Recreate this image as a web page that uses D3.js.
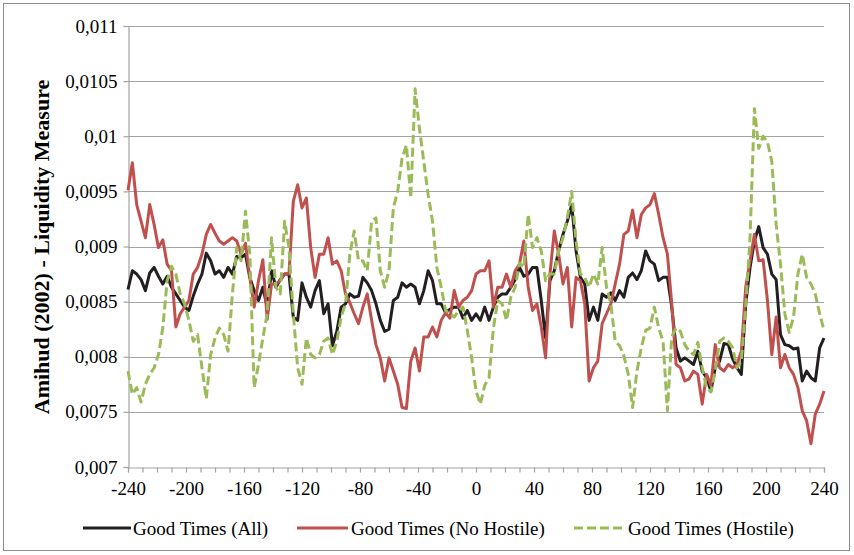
<!DOCTYPE html>
<html>
<head>
<meta charset="utf-8">
<script src="https://cdn.jsdelivr.net/npm/d3@7"></script>
<style>
  body { margin: 0; background: #fff; }
  text { font-family: "Liberation Serif", "Times New Roman", serif; fill: #000; }
</style>
</head>
<body>
<svg id="chart" width="854" height="555"></svg>
<script>
// Event-time window in days, one observation every three days
const days = d3.range(-240, 241, 3);

// Amihud (2002) illiquidity, Good Times (All)
const goodTimesAll = [
  0.00861,0.00878,0.00875,0.00870,0.00860,0.00876,0.00881,0.00873,0.00866,0.00873,
  0.00863,0.00857,0.00851,0.00845,0.00842,0.00855,0.00866,0.00875,0.00894,0.00887,
  0.00875,0.00878,0.00872,0.00881,0.00875,0.00891,0.00890,0.00893,0.00872,0.00860,
  0.00851,0.00863,0.00845,0.00878,0.00863,0.00870,0.00875,0.00875,0.00836,0.00833,
  0.00867,0.00854,0.00845,0.00860,0.00869,0.00839,0.00848,0.00810,0.00823,0.00845,
  0.00848,0.00857,0.00854,0.00855,0.00872,0.00867,0.00860,0.00848,0.00833,0.00823,
  0.00825,0.00851,0.00854,0.00867,0.00863,0.00866,0.00863,0.00848,0.00860,0.00878,
  0.00869,0.00848,0.00848,0.00840,0.00843,0.00845,0.00845,0.00835,0.00842,0.00833,
  0.00839,0.00833,0.00845,0.00833,0.00845,0.00854,0.00857,0.00857,0.00863,0.00870,
  0.00881,0.00873,0.00875,0.00881,0.00881,0.00851,0.00817,0.00869,0.00878,0.00896,
  0.00911,0.00923,0.00938,0.00896,0.00872,0.00866,0.00833,0.00845,0.00833,0.00857,
  0.00854,0.00858,0.00851,0.00860,0.00854,0.00872,0.00876,0.00870,0.00878,0.00896,
  0.00887,0.00884,0.00869,0.00872,0.00872,0.00845,0.00808,0.00796,0.00799,0.00796,
  0.00793,0.00805,0.00787,0.00781,0.00769,0.00790,0.00796,0.00812,0.00811,0.00798,
  0.00790,0.00784,0.00848,0.00881,0.00905,0.00918,0.00899,0.00893,0.00875,0.00870,
  0.00820,0.00811,0.00810,0.00807,0.00808,0.00778,0.00787,0.00781,0.00778,0.00808,
  0.00817
];

// Good Times (No Hostile)
const goodTimesNoHostile = [
  0.00951,0.00976,0.00938,0.00923,0.00908,0.00938,0.00920,0.00899,0.00906,0.00884,
  0.00878,0.00827,0.00839,0.00845,0.00851,0.00875,0.00881,0.00893,0.00911,0.00920,
  0.00912,0.00905,0.00902,0.00905,0.00908,0.00905,0.00893,0.00903,0.00872,0.00845,
  0.00869,0.00888,0.00834,0.00866,0.00866,0.00869,0.00875,0.00875,0.00941,0.00956,
  0.00935,0.00944,0.00899,0.00872,0.00893,0.00893,0.00908,0.00884,0.00887,0.00878,
  0.00857,0.00849,0.00839,0.00830,0.00845,0.00857,0.00833,0.00811,0.00799,0.00778,
  0.00799,0.00787,0.00775,0.00754,0.00753,0.00796,0.00808,0.00787,0.00818,0.00818,
  0.00827,0.00818,0.00833,0.00840,0.00835,0.00860,0.00845,0.00851,0.00854,0.00860,
  0.00875,0.00878,0.00878,0.00887,0.00845,0.00863,0.00863,0.00875,0.00863,0.00878,
  0.00884,0.00905,0.00863,0.00842,0.00848,0.00827,0.00799,0.00875,0.00914,0.00893,
  0.00866,0.00881,0.00827,0.00872,0.00869,0.00848,0.00778,0.00790,0.00796,0.00830,
  0.00839,0.00848,0.00866,0.00884,0.00911,0.00914,0.00933,0.00908,0.00929,0.00935,
  0.00938,0.00948,0.00929,0.00908,0.00893,0.00848,0.00793,0.00790,0.00778,0.00780,
  0.00787,0.00784,0.00757,0.00784,0.00774,0.00811,0.00790,0.00787,0.00793,0.00790,
  0.00793,0.00805,0.00863,0.00887,0.00911,0.00887,0.00888,0.00851,0.00802,0.00836,
  0.00790,0.00802,0.00790,0.00784,0.00772,0.00751,0.00742,0.00721,0.00748,0.00757,
  0.00769
];

// Good Times (Hostile)
const goodTimesHostile = [
  0.00787,0.00766,0.00772,0.00759,0.00775,0.00784,0.00790,0.00802,0.00826,0.00869,
  0.00882,0.00875,0.00857,0.00848,0.00833,0.00814,0.00820,0.00790,0.00762,0.00802,
  0.00817,0.00826,0.00820,0.00805,0.00857,0.00899,0.00887,0.00932,0.00893,0.00772,
  0.00793,0.00817,0.00839,0.00908,0.00863,0.00857,0.00923,0.00899,0.00839,0.00790,
  0.00775,0.00817,0.00802,0.00799,0.00802,0.00814,0.00817,0.00802,0.00814,0.00836,
  0.00848,0.00893,0.00914,0.00887,0.00887,0.00878,0.00923,0.00926,0.00878,0.00863,
  0.00878,0.00935,0.00950,0.00980,0.00992,0.00944,0.01043,0.01007,0.00977,0.00947,
  0.00923,0.00881,0.00863,0.00842,0.00839,0.00836,0.00842,0.00845,0.00824,0.00799,
  0.00769,0.00757,0.00774,0.00781,0.00826,0.00851,0.00848,0.00833,0.00854,0.00863,
  0.00885,0.00881,0.00929,0.00899,0.00908,0.00896,0.00869,0.00875,0.00875,0.00896,
  0.00908,0.00926,0.00950,0.00905,0.00875,0.00872,0.00863,0.00875,0.00866,0.00899,
  0.00863,0.00848,0.00814,0.00810,0.00801,0.00784,0.00754,0.00787,0.00808,0.00824,
  0.00826,0.00845,0.00826,0.00814,0.00751,0.00818,0.00826,0.00823,0.00811,0.00805,
  0.00802,0.00813,0.00790,0.00772,0.00768,0.00787,0.00814,0.00817,0.00814,0.00808,
  0.00790,0.00796,0.00845,0.00908,0.01025,0.00989,0.01000,0.00995,0.00977,0.00920,
  0.00884,0.00839,0.00822,0.00836,0.00875,0.00893,0.00872,0.00866,0.00857,0.00839,
  0.00824
];

const yTicks = [0.007, 0.0075, 0.008, 0.0085, 0.009, 0.0095, 0.01, 0.0105, 0.011];
const xLabelTicks = [-240, -200, -160, -120, -80, -40, 0, 40, 80, 120, 160, 200, 240];
const xMinorTicks = d3.range(-240, 241, 10);
const seriesNames = ["Good Times (All)", "Good Times (No Hostile)", "Good Times (Hostile)"];
const seriesColors = ["#231f20", "#c0504d", "#9bbb59"];
const seriesDash = [null, null, "9,4"];
const seriesValues = [goodTimesAll, goodTimesNoHostile, goodTimesHostile];

const svg = d3.select("#chart");
const plot = { left: 128, right: 824, top: 26, bottom: 467 };
const gridColor = "#a3a3a3";

// chart frame
svg.append("rect")
  .attr("x", 3.5).attr("y", 3.5).attr("width", 846).attr("height", 547)
  .attr("fill", "#fff").attr("stroke", "#8c8c8c").attr("stroke-width", 1);

const x = d3.scaleLinear().domain([-240, 240]).range([plot.left, plot.right]);
const y = d3.scaleLinear().domain([0.007, 0.011]).range([plot.bottom, plot.top]);

// horizontal gridlines
svg.append("g")
  .selectAll("line")
  .data(yTicks.slice(1))
  .join("line")
  .attr("x1", plot.left).attr("x2", plot.right)
  .attr("y1", d => Math.round(y(d)) + 0.5).attr("y2", d => Math.round(y(d)) + 0.5)
  .attr("stroke", gridColor).attr("stroke-width", 1.2);

// y axis, decimal comma labels
const commaFormat = d3.formatLocale({ decimal: ",", thousands: ".", grouping: [3], currency: ["", ""] }).format("~g");
const yAxis = svg.append("g")
  .attr("transform", `translate(${plot.left + 0.5},0)`)
  .call(d3.axisLeft(y).tickValues(yTicks).tickSize(5).tickPadding(6).tickFormat(commaFormat));
yAxis.select(".domain").attr("stroke", gridColor).attr("stroke-width", 1.2);
yAxis.selectAll(".tick line").attr("stroke", gridColor).attr("stroke-width", 1.2);
yAxis.selectAll(".tick text").attr("font-size", 19).attr("font-family", "'Liberation Serif', serif").attr("fill", "#000");

// x axis with minor ticks every 10 days and labels every 40
const xAxis = svg.append("g")
  .attr("transform", `translate(0,${plot.bottom + 0.5})`)
  .call(d3.axisBottom(x).tickValues(xMinorTicks).tickSize(5).tickPadding(9)
    .tickFormat(d => xLabelTicks.includes(d) ? String(d) : ""));
xAxis.select(".domain").attr("stroke", gridColor).attr("stroke-width", 1.2);
xAxis.selectAll(".tick line").attr("stroke", gridColor).attr("stroke-width", 1.2);
xAxis.selectAll(".tick text").attr("font-size", 19).attr("font-family", "'Liberation Serif', serif").attr("fill", "#000");

// y axis title
svg.append("text")
  .attr("transform", "translate(49,247) rotate(-90)")
  .attr("text-anchor", "middle")
  .attr("font-size", 22).attr("font-weight", "bold")
  .text("Amihud (2002) - Liquidity Measure");

// series lines
const line = d3.line().x((d, i) => x(days[i])).y(d => y(d));
seriesValues.forEach((vals, k) => {
  svg.append("path")
    .datum(vals)
    .attr("d", line)
    .attr("fill", "none")
    .attr("stroke", seriesColors[k])
    .attr("stroke-width", 3)
    .attr("stroke-linejoin", "round")
    .attr("stroke-dasharray", seriesDash[k]);
});

// legend
const legendItems = [
  { x1: 83, x2: 131, tx: 133 },
  { x1: 297, x2: 348, tx: 351 },
  { x1: 574, x2: 624, tx: 628 }
];
const legendY = 528;
legendItems.forEach((it, k) => {
  svg.append("line")
    .attr("x1", it.x1).attr("x2", it.x2).attr("y1", legendY).attr("y2", legendY)
    .attr("stroke", seriesColors[k]).attr("stroke-width", 3)
    .attr("stroke-dasharray", seriesDash[k]);
  svg.append("text")
    .attr("x", it.tx).attr("y", legendY).attr("dy", "0.35em")
    .attr("font-size", 19)
    .text(seriesNames[k]);
});
</script>
</body>
</html>
